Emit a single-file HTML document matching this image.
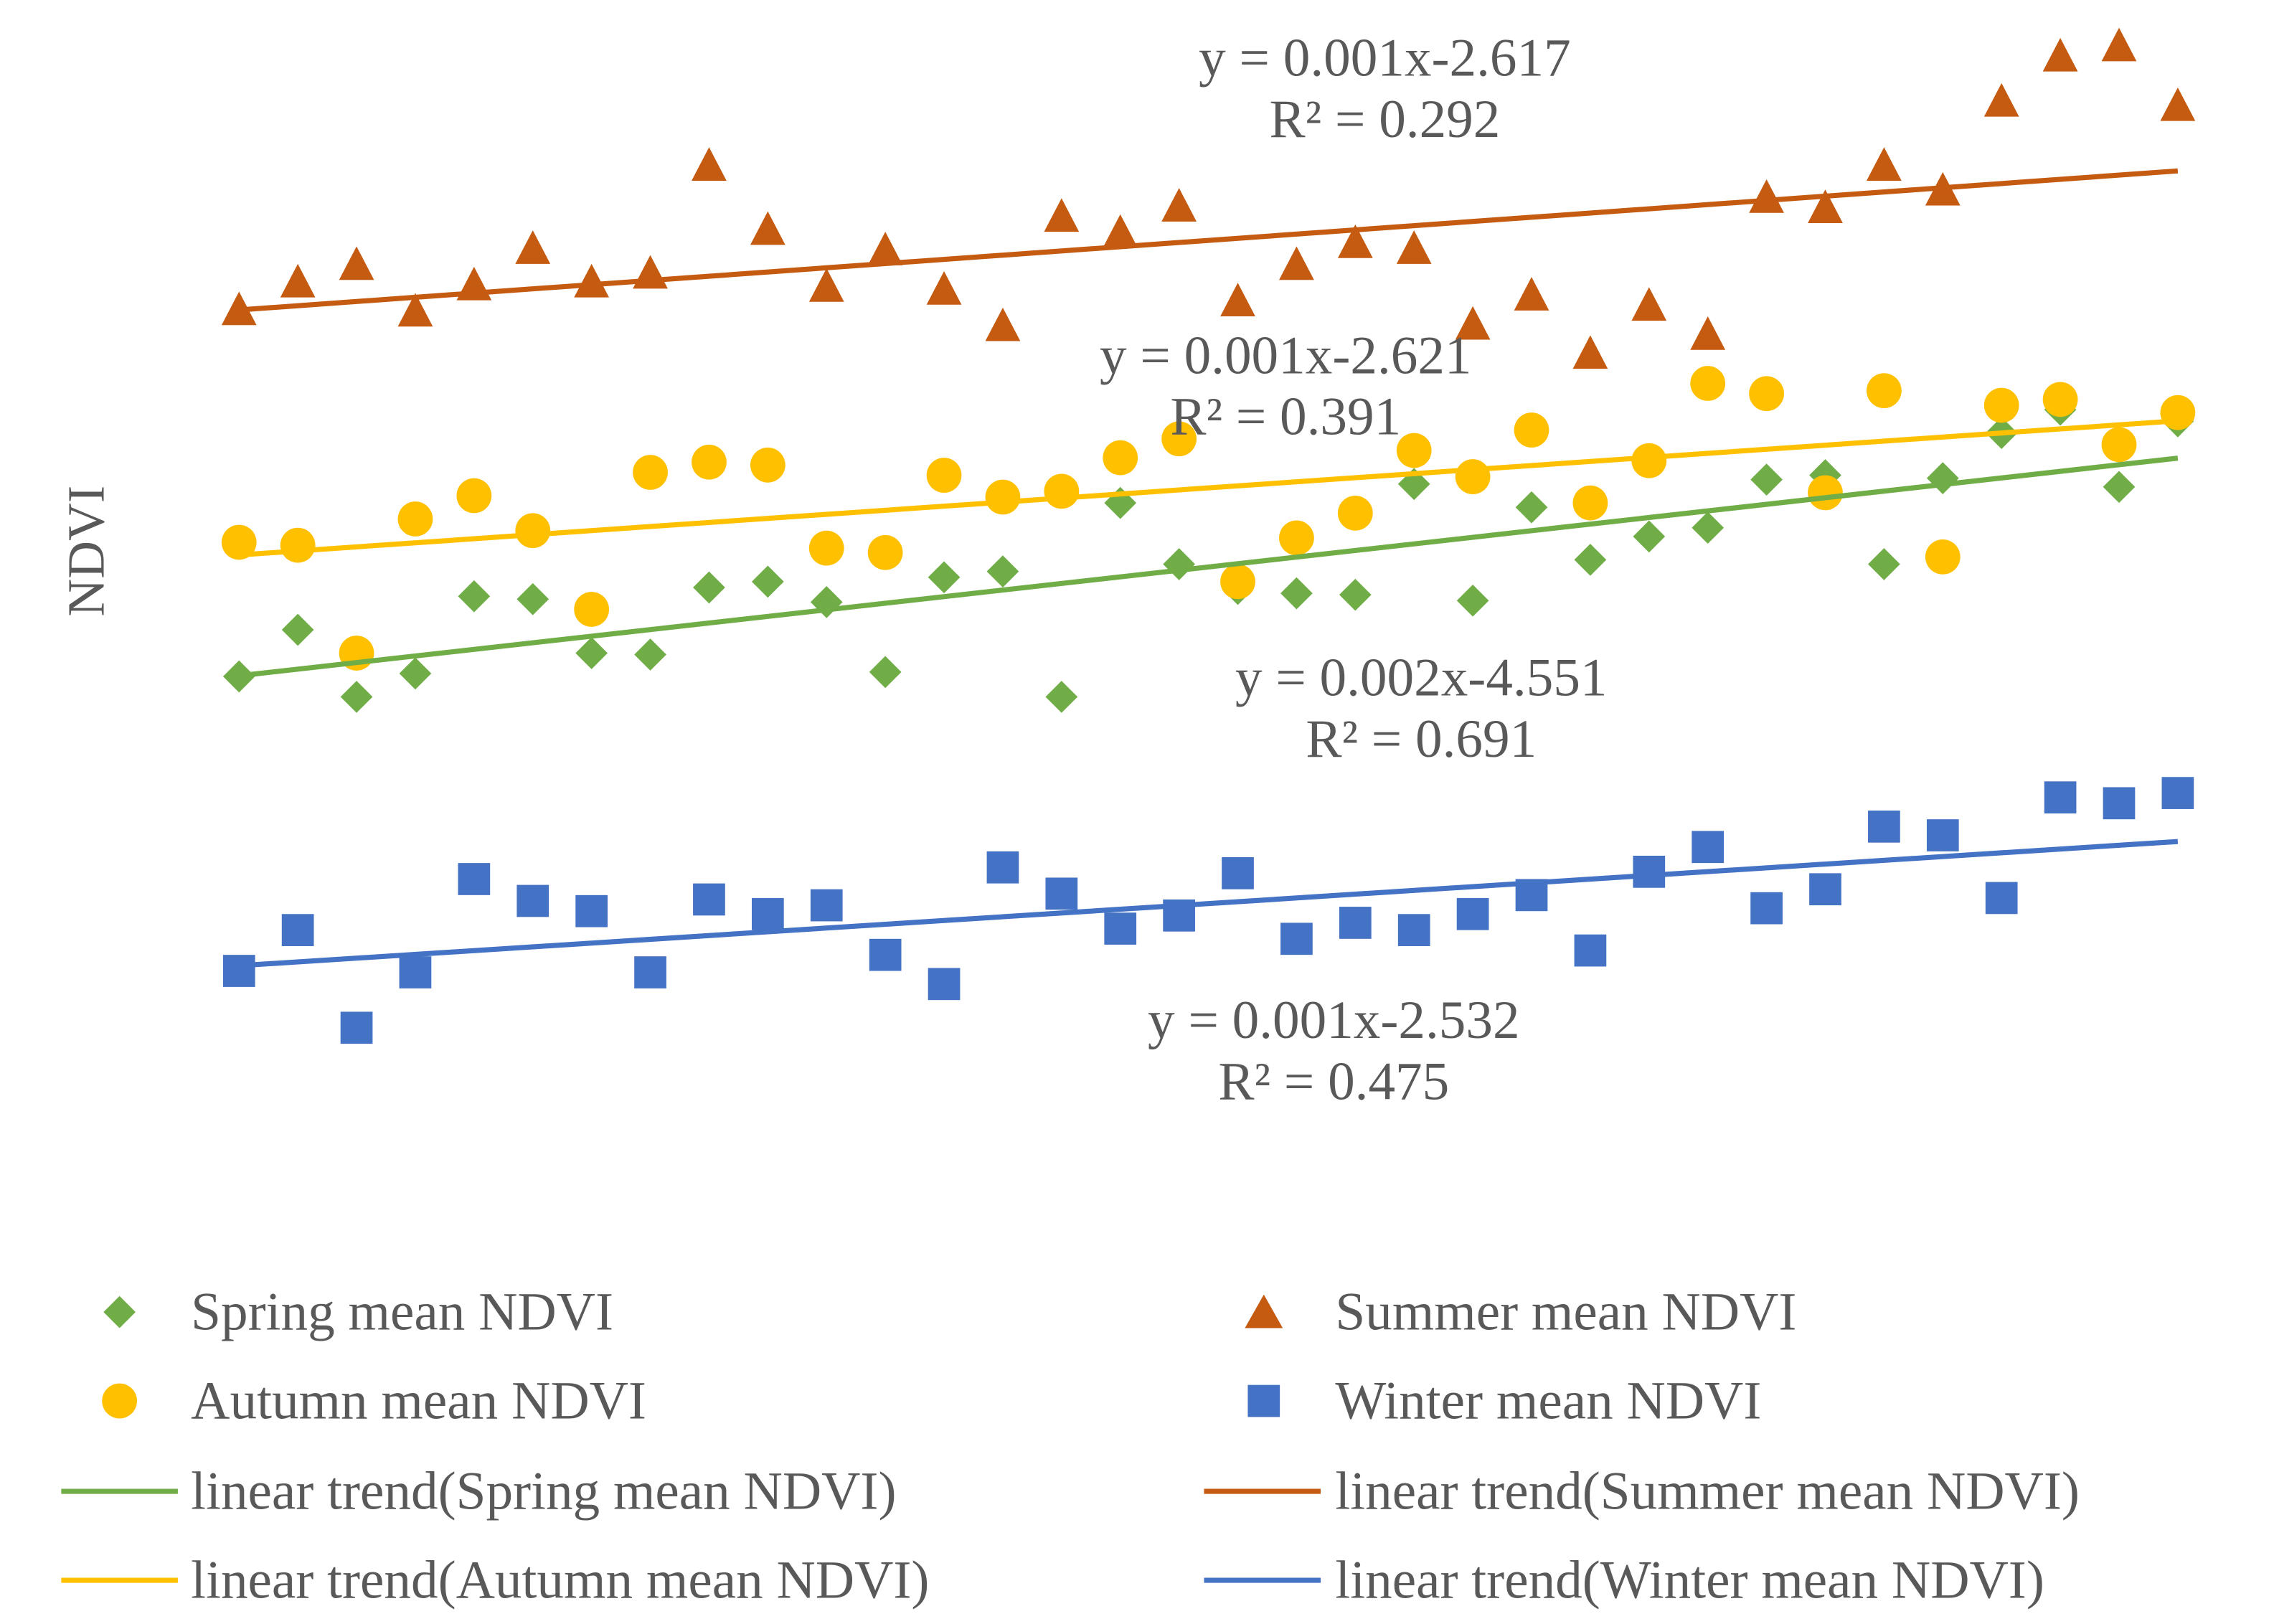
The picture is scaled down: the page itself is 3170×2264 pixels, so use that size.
<!DOCTYPE html>
<html><head><meta charset="utf-8"><style>
html,body{margin:0;padding:0;background:#fff;}
svg{display:block;}
text{font-family:"Liberation Serif",serif;fill:#595959;}
</style></head><body>
<svg id="chart" width="3170" height="2264" viewBox="0 0 1560 1114" preserveAspectRatio="none" xmlns="http://www.w3.org/2000/svg">
<rect width="1560" height="1114" fill="#fff"/>
<g id="plot"></g>
<text transform="translate(71,378) rotate(-90)" text-anchor="middle" font-size="36">NDVI</text>
<g font-size="37" text-anchor="middle">
<text x="950" y="52">y = 0.001x-2.617</text>
<text x="950" y="94">R² = 0.292</text>
<text x="882" y="256">y = 0.001x-2.621</text>
<text x="882" y="298">R² = 0.391</text>
<text x="975" y="477">y = 0.002x-4.551</text>
<text x="975" y="519">R² = 0.691</text>
<text x="915" y="712">y = 0.001x-2.532</text>
<text x="915" y="754">R² = 0.475</text>
</g>
<g font-size="37">
<polygon points="82,889 93,900 82,911 71,900" fill="#70ad47"/>
<text x="131" y="912">Spring mean NDVI</text>
<polygon points="867,888 880,911 854,911" fill="#c55a11"/>
<text x="916" y="912">Summer mean NDVI</text>
<circle cx="82" cy="961" r="12" fill="#ffc000"/>
<text x="131" y="973">Autumn mean NDVI</text>
<rect x="856" y="950" width="22" height="22" fill="#4472c4"/>
<text x="916" y="973">Winter mean NDVI</text>
<line x1="42" y1="1023" x2="122" y2="1023" stroke="#70ad47" stroke-width="3.5"/>
<text x="131" y="1035">linear trend(Spring mean NDVI)</text>
<line x1="826" y1="1023" x2="906" y2="1023" stroke="#c55a11" stroke-width="3.5"/>
<text x="916" y="1035">linear trend(Summer mean NDVI)</text>
<line x1="42" y1="1084" x2="122" y2="1084" stroke="#ffc000" stroke-width="3.5"/>
<text x="131" y="1096">linear trend(Autumn mean NDVI)</text>
<line x1="826" y1="1084" x2="906" y2="1084" stroke="#4472c4" stroke-width="3.5"/>
<text x="916" y="1096">linear trend(Winter mean NDVI)</text>
</g>
</svg>
<script>
const years = [];
for (let i = 0; i < 34; i++) years.push(1982 + i);
const summer = [0.588,0.607,0.619,0.587,0.605,0.630,0.607,0.613,0.687,0.643,0.604,0.629,0.602,0.577,0.652,0.641,0.659,0.594,0.619,0.634,0.630,0.578,0.598,0.558,0.591,0.571,0.665,0.658,0.687,0.670,0.731,0.762,0.769,0.728];
const autumn = [0.428,0.426,0.352,0.444,0.460,0.436,0.382,0.476,0.483,0.481,0.424,0.421,0.474,0.459,0.463,0.486,0.499,0.401,0.431,0.448,0.491,0.473,0.505,0.455,0.484,0.537,0.530,0.462,0.532,0.418,0.522,0.526,0.495,0.517];
const spring = [0.336,0.368,0.322,0.338,0.391,0.389,0.352,0.351,0.397,0.401,0.387,0.339,0.404,0.408,0.322,0.455,0.413,0.396,0.393,0.392,0.468,0.388,0.452,0.416,0.432,0.438,0.471,0.474,0.413,0.472,0.503,0.519,0.466,0.511];
const winter = [0.134,0.162,0.095,0.133,0.197,0.182,0.175,0.133,0.183,0.173,0.179,0.145,0.125,0.205,0.187,0.163,0.172,0.201,0.156,0.167,0.162,0.173,0.186,0.148,0.202,0.219,0.177,0.190,0.233,0.227,0.184,0.253,0.249,0.256];

const NS = 'http://www.w3.org/2000/svg';
const plot = document.getElementById('plot');
const xScale = i => 164 + (1494 - 164) * (i - years[0]) / (years[years.length-1] - years[0]);
const yScale = v => 800 - 1000 * v;

function mk(tag, attrs) {
  const e = document.createElementNS(NS, tag);
  for (const k in attrs) e.setAttribute(k, attrs[k]);
  plot.appendChild(e);
  return e;
}
function trend(vals, color, name) {
  const n = vals.length;
  let sx=0, sy=0, sxx=0, sxy=0;
  years.forEach((x,i)=>{ sx+=x; sy+=vals[i]; sxx+=x*x; sxy+=x*vals[i]; });
  const b = (n*sxy - sx*sy)/(n*sxx - sx*sx);
  const a = (sy - b*sx)/n;
  const x0 = years[0], x1 = years[n-1];
  const l = mk('line', {x1:xScale(x0), y1:yScale(a+b*x0), x2:xScale(x1), y2:yScale(a+b*x1), stroke:color, 'stroke-width':3.5});
  
  
}
function markers(vals, kind, color, name) {
  vals.forEach((v, i) => {
    const cx = xScale(years[i]), cy = yScale(v);
    let e;
    if (kind === 'diamond') e = mk('polygon', {points:`${cx},${cy-11} ${cx+11},${cy} ${cx},${cy+11} ${cx-11},${cy}`, fill:color});
    else if (kind === 'circle') e = mk('circle', {cx:cx, cy:cy, r:12, fill:color});
    else if (kind === 'square') e = mk('rect', {x:cx-11, y:cy-11, width:22, height:22, fill:color});
    else e = mk('polygon', {points:`${cx},${cy-12} ${cx+12},${cy+11} ${cx-12},${cy+11}`, fill:color});
    
    
  });
}
markers(winter, 'square', '#4472c4', 'winter-point');
trend(winter, '#4472c4', 'winter-trend-line');
markers(spring, 'diamond', '#70ad47', 'spring-point');
markers(autumn, 'circle', '#ffc000', 'autumn-point');
trend(spring, '#70ad47', 'spring-trend-line');
trend(autumn, '#ffc000', 'autumn-trend-line');
markers(summer, 'triangle', '#c55a11', 'summer-point');
trend(summer, '#c55a11', 'summer-trend-line');
</script>
</body></html>
